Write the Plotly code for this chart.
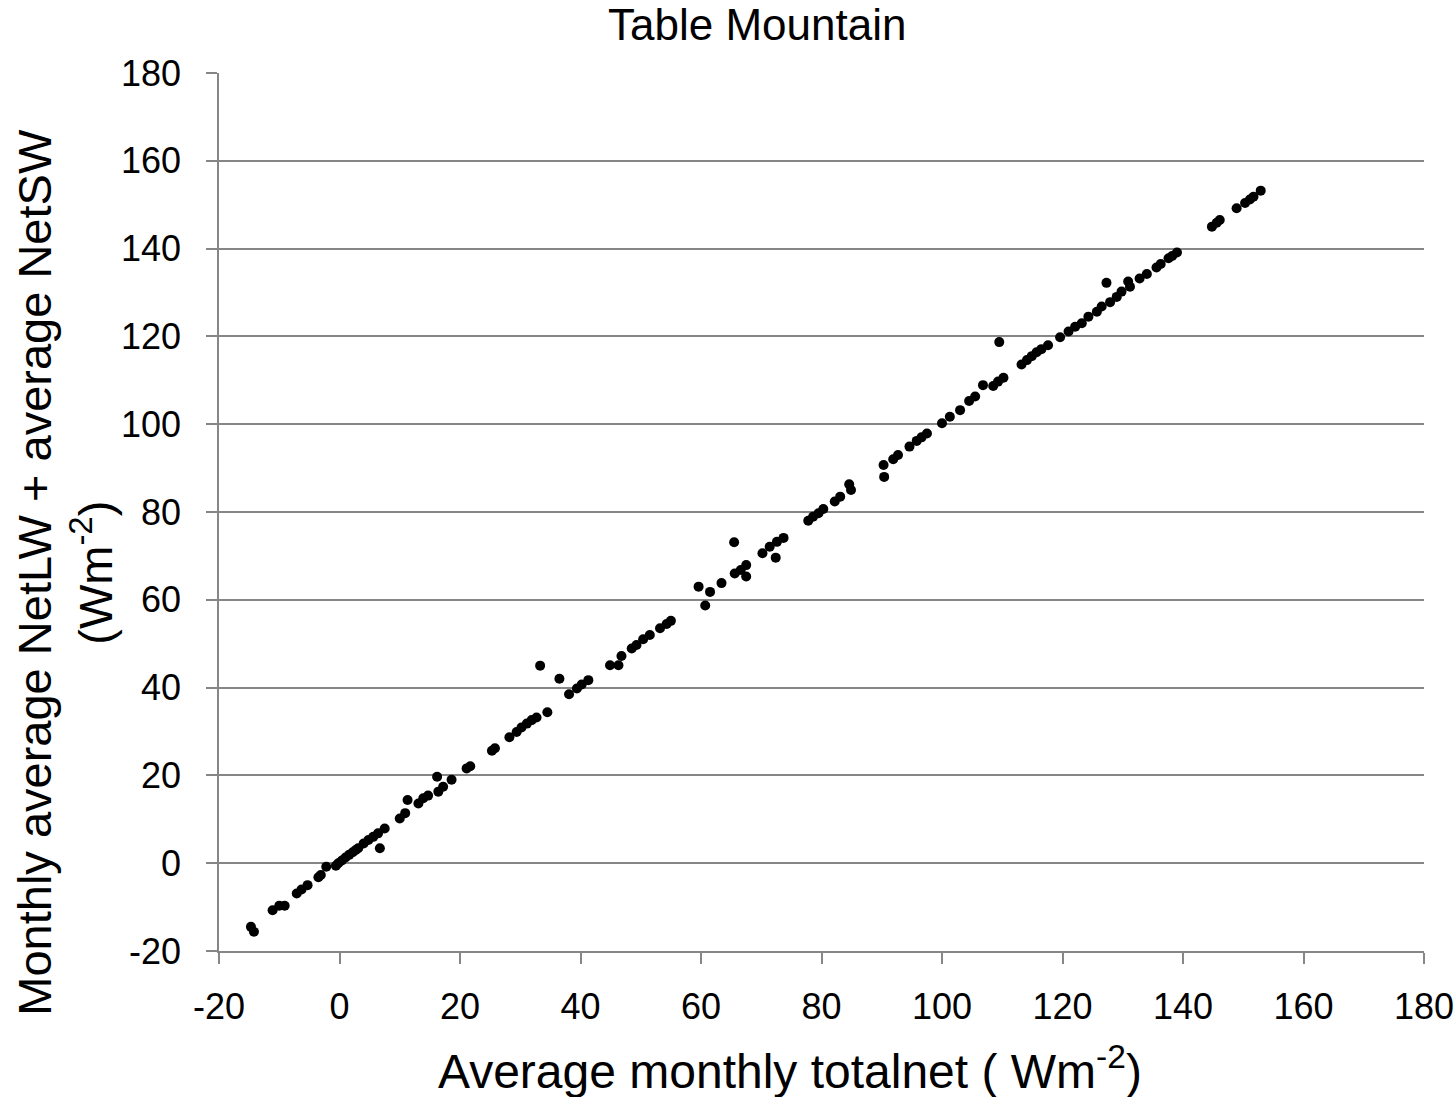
import plotly.graph_objects as go

# Average monthly totalnet (x) vs monthly average NetLW + NetSW (y)
x_vals = [-14.7, -14.2, -11.1, -10.0, -9.1, -7.1, -6.3, -5.3, -3.5, -3.1, -2.2, -0.6, -0.2, 0.4, 1.0,
          1.6, 2.2, 2.7, 3.1, 4.0, 4.8, 5.6, 6.4, 7.5, 6.7, 10.0, 10.9, 11.3, 13.1, 13.9,
          14.7, 16.4, 16.2, 17.2, 18.6, 21.1, 21.7, 25.3, 25.8, 28.2, 29.4, 30.2, 31.1, 31.9, 32.7,
          34.5, 33.3, 36.5, 38.1, 39.4, 40.2, 41.3, 44.9, 46.3, 46.8, 48.5, 49.3, 50.4, 51.5, 53.2,
          54.3, 55.0, 59.6, 60.7, 61.5, 63.4, 65.5, 65.6, 66.6, 67.5, 67.5, 70.2, 71.4, 72.4, 72.6,
          73.7, 77.8, 78.6, 79.5, 80.3, 82.2, 83.1, 84.6, 84.9, 90.3, 90.4, 91.9, 92.7, 94.6, 95.8,
          96.6, 97.5, 100.0, 101.3, 103.0, 104.5, 105.5, 106.8, 108.5, 109.3, 110.2, 109.5, 113.2, 114.1, 114.9,
          115.7, 116.5, 117.6, 119.6, 121.0, 122.1, 123.2, 124.3, 125.7, 126.5, 127.9, 127.3, 129.0, 129.8, 130.9,
          131.2, 132.8, 134.0, 135.6, 136.3, 137.6, 138.2, 139.0, 144.8, 145.6, 146.1, 148.9, 150.3, 151.1, 151.7,
          152.9]
y_vals = [-14.5, -15.6, -10.7, -9.7, -9.7, -6.9, -6.0, -5.0, -3.2, -2.7, -0.8, -0.6, 0.0, 0.6, 1.3,
          1.9, 2.5, 3.0, 3.4, 4.5, 5.3, 6.0, 6.8, 7.9, 3.4, 10.2, 11.4, 14.4, 13.6, 14.8,
          15.4, 16.3, 19.7, 17.4, 19.0, 21.6, 22.1, 25.6, 26.2, 28.7, 29.9, 30.9, 31.8, 32.6, 33.2,
          34.4, 45.0, 42.0, 38.5, 39.8, 40.7, 41.7, 45.1, 45.1, 47.2, 48.9, 49.7, 51.0, 52.0, 53.5,
          54.5, 55.2, 63.0, 58.7, 61.8, 63.8, 73.1, 66.0, 66.8, 67.9, 65.3, 70.6, 72.1, 69.6, 73.2,
          74.1, 78.0, 78.9, 79.7, 80.7, 82.4, 83.5, 86.3, 85.0, 90.7, 88.0, 92.0, 93.0, 94.9, 96.2,
          97.0, 97.9, 100.2, 101.7, 103.2, 105.3, 106.3, 108.9, 108.7, 109.7, 110.6, 118.7, 113.6, 114.6, 115.5,
          116.4, 117.1, 118.0, 119.8, 121.1, 122.2, 123.0, 124.5, 125.6, 126.8, 127.8, 132.2, 129.0, 130.2, 132.5,
          131.3, 133.2, 134.2, 135.7, 136.5, 137.8, 138.3, 139.1, 145.0, 145.9, 146.5, 149.2, 150.4, 151.2, 151.8,
          153.2]

tick_vals = [-20, 0, 20, 40, 60, 80, 100, 120, 140, 160, 180]
tick_text = [str(v) for v in tick_vals]

FONT = "Liberation Sans, Arial, sans-serif"
GRID = "#868686"

fig = go.Figure()
fig.add_trace(go.Scatter(
    x=x_vals, y=y_vals, mode="markers",
    marker=dict(color="black", size=10, line=dict(width=0)),
    showlegend=False,
))

fig.update_layout(
    width=1455, height=1097,
    margin=dict(l=219, r=31, t=73, b=146, autoexpand=False),
    paper_bgcolor="white", plot_bgcolor="white",
    font=dict(family=FONT, color="black"),
    annotations=[
        dict(text="Table Mountain", xref="paper", yref="paper", x=0.4465, y=1.0547,
             xanchor="center", yanchor="middle", showarrow=False,
             font=dict(size=44, family=FONT, color="black")),
        dict(text="Average monthly totalnet ( Wm<sup>-2</sup>)", xref="paper", yref="paper",
             x=0.474, y=-0.133, xanchor="center", yanchor="middle", showarrow=False,
             font=dict(size=48, family=FONT, color="black")),
        dict(text="Monthly average NetLW + average NetSW<br>(Wm<sup>-2</sup>)", xref="paper", yref="paper",
             x=-0.128, y=0.4317, xanchor="center", yanchor="middle", showarrow=False,
             textangle=-90, font=dict(size=47, family=FONT, color="black")),
    ],
)

fig.update_xaxes(
    range=[-20, 180], tickmode="array", tickvals=tick_vals, ticktext=tick_text,
    showgrid=False, zeroline=False, showline=True, linecolor=GRID, linewidth=1.5,
    ticks="outside", ticklen=11, tickcolor=GRID, tickwidth=1.5,
    tickfont=dict(size=36, family=FONT, color="black"), ticklabelstandoff=12,
    automargin=False,
)
fig.update_yaxes(
    range=[-20, 180], tickmode="array", tickvals=tick_vals, ticktext=tick_text,
    showgrid=True, gridcolor=GRID, gridwidth=1.5, zeroline=False,
    showline=True, linecolor=GRID, linewidth=1.5,
    ticks="outside", ticklen=11, tickcolor=GRID, tickwidth=1.5,
    tickfont=dict(size=36, family=FONT, color="black"), ticklabelstandoff=18,
    automargin=False,
)

fig.write_html(
    "out.html",
    config={"displayModeBar": False},
    post_script="document.body.style.margin='0';document.body.style.overflow='hidden';",
)
